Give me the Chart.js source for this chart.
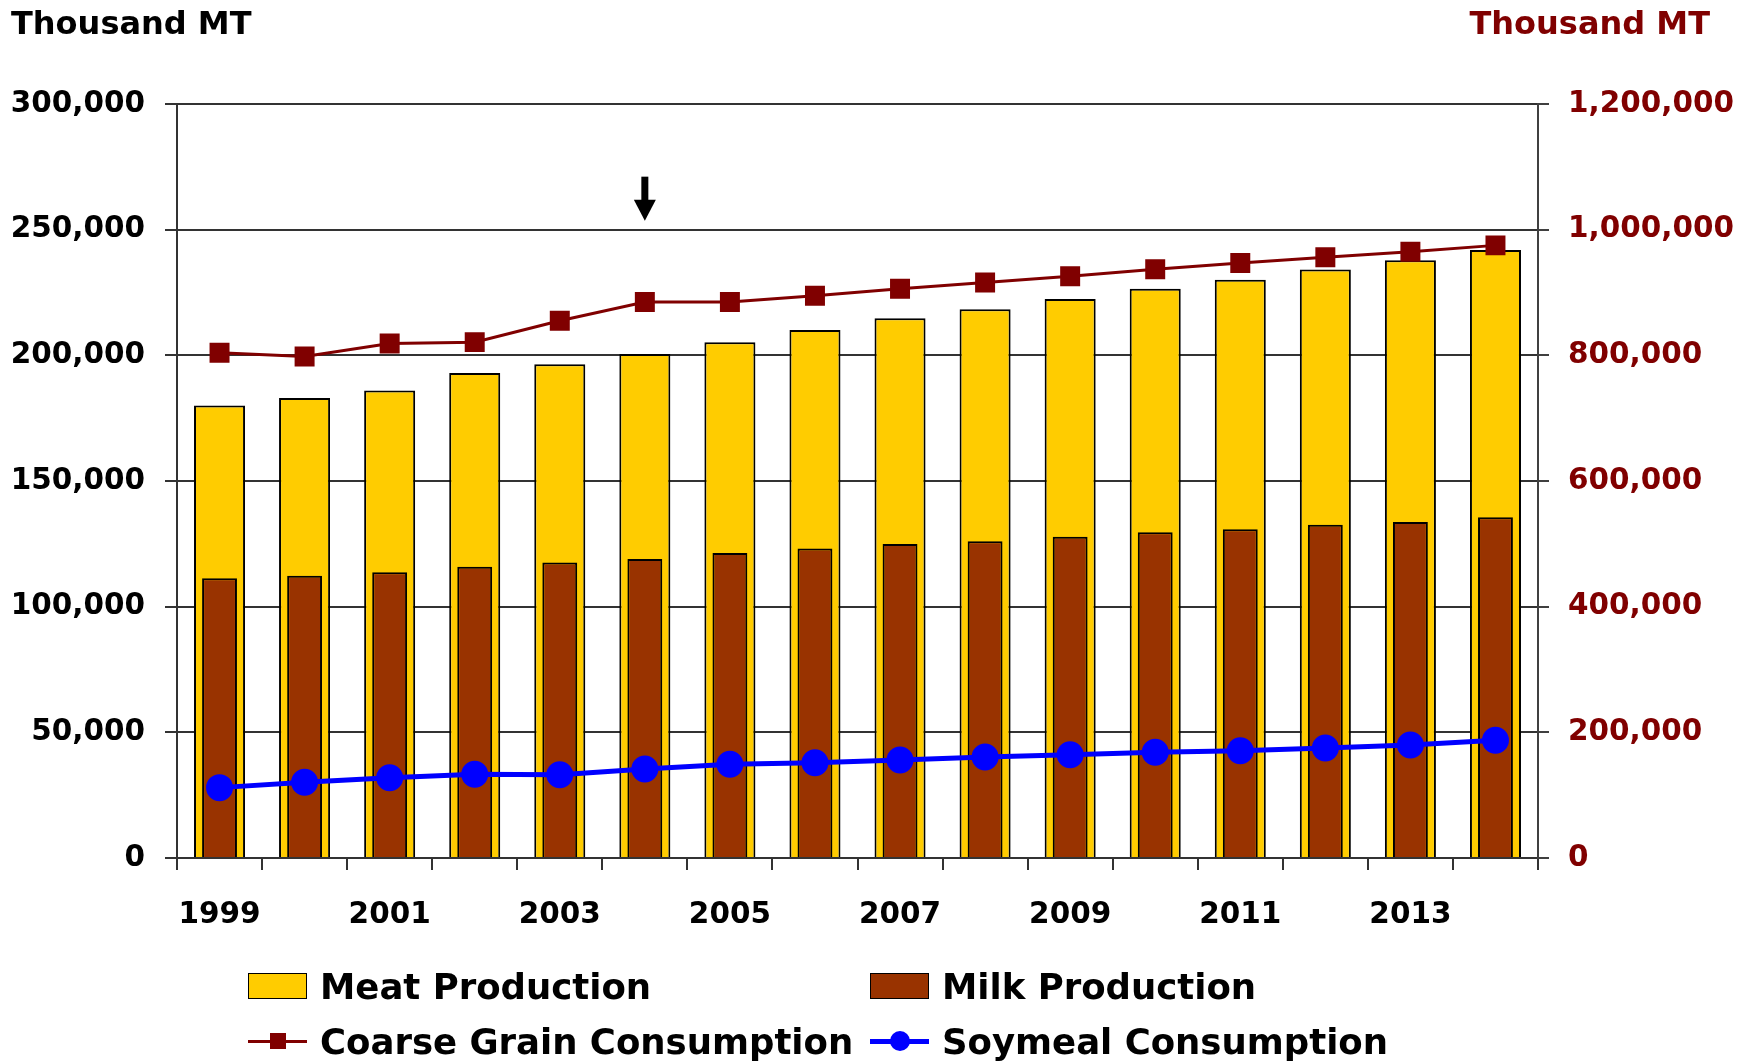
<!DOCTYPE html>
<html>
<head>
<meta charset="utf-8">
<title>Meat and Milk Production vs Feed Consumption</title>
<script src="https://cdn.jsdelivr.net/npm/chart.js@4.4.1/dist/chart.umd.min.js"></script>
<style>
    html, body { margin: 0; padding: 0; background: #fff; overflow: hidden; }
    #wrap { position: relative; width: 1754px; height: 1064px; }
    .legend-item {
        position: absolute; display: flex; align-items: center; height: 40px;
        font: bold 35.5px "DejaVu Sans", sans-serif; color: #000; white-space: nowrap;
    }
    .swatch { position: relative; width: 59px; height: 26px; margin-right: 13px; box-sizing: border-box; }
    .swatch.bar { border: 1.5px solid #000; }
    .swatch .stroke { position: absolute; left: 0; right: 0; top: 50%; }
    .swatch .dot { position: absolute; left: 50%; top: 50%; }
</style>
</head>
<body>
<div id="wrap">
    <canvas id="feedChart"></canvas>
    <div id="legend"></div>
</div>
<script>
// Thousand MT, calendar years
const years = ['1999', '2000', '2001', '2002', '2003', '2004', '2005', '2006',
               '2007', '2008', '2009', '2010', '2011', '2012', '2013', '2014'];

// left axis
const meatProduction = [180000, 183000, 186000, 193000, 196500, 200500, 205200, 210100,
                        214800, 218300, 222400, 226500, 230100, 234200, 237800, 241900];
const milkProduction = [111300, 112300, 113700, 115900, 117600, 119000, 121400, 123100,
                        124900, 126000, 127800, 129600, 130800, 132600, 133700, 135600];

// right axis
const coarseGrainConsumption = [804000, 798000, 819000, 821000, 855000, 885000, 885000, 895000,
                                906000, 916000, 926000, 937000, 947000, 956000, 965000, 975000];
const soymealConsumption = [112000, 120500, 127800, 133200, 132600, 141600, 149100, 151700,
                            156000, 160700, 164400, 168200, 170800, 175100, 179800, 187300];

const leftMax = 300000, leftStep = 50000;
const rightMax = 1200000, rightStep = 200000;
const axisTitle = 'Thousand MT';
const arrowYear = '2004';

const MEAT = '#FFCC00', MILK = '#993300', GRAIN = '#800000', SOY = '#0000FF';
const FONT = '"DejaVu Sans", sans-serif';

Chart.defaults.font.family = FONT;
Chart.defaults.font.weight = 'bold';
Chart.defaults.color = '#000';

const fmt = v => Number(v).toLocaleString('en-US');

// titles over each value axis + the down arrow above 2004
const extras = {
    id: 'extras',
    afterDraw(chart) {
        const ctx = chart.ctx;
        ctx.save();
        ctx.font = 'bold 32px ' + FONT;
        ctx.textBaseline = 'middle';
        ctx.fillStyle = '#000';
        ctx.textAlign = 'left';
        ctx.fillText(axisTitle, 11, 26);
        ctx.fillStyle = GRAIN;
        ctx.textAlign = 'right';
        ctx.fillText(axisTitle, chart.width - 44, 26);

        const x = chart.scales.x.getPixelForValue(years.indexOf(arrowYear));
        const tip = chart.scales.y.getPixelForValue(250000) - 9;
        ctx.fillStyle = '#000';
        ctx.fillRect(x - 3.5, tip - 44, 7, 24);
        ctx.beginPath();
        ctx.moveTo(x - 11, tip - 21);
        ctx.lineTo(x + 11, tip - 21);
        ctx.lineTo(x, tip);
        ctx.closePath();
        ctx.fill();
        ctx.restore();
    }
};

new Chart(document.getElementById('feedChart'), {
    type: 'bar',
    data: {
        labels: years,
        datasets: [
            { type: 'line', label: 'Coarse Grain Consumption', data: coarseGrainConsumption, yAxisID: 'y1', order: 0,
              borderColor: GRAIN, borderWidth: 3, pointStyle: 'rect', pointRadius: 12, pointHoverRadius: 12,
              pointBackgroundColor: GRAIN, pointBorderColor: GRAIN, tension: 0 },
            { type: 'line', label: 'Soymeal Consumption', data: soymealConsumption, yAxisID: 'y1', order: 1,
              borderColor: SOY, borderWidth: 5, pointStyle: 'circle', pointRadius: 11, pointHoverRadius: 11,
              pointBackgroundColor: SOY, pointBorderColor: SOY, tension: 0 },
            { label: 'Milk Production', data: milkProduction, yAxisID: 'y', order: 2, grouped: false,
              backgroundColor: MILK, borderColor: '#000', borderWidth: 2,
              barPercentage: 0.41, categoryPercentage: 1 },
            { label: 'Meat Production', data: meatProduction, yAxisID: 'y', order: 3, grouped: false,
              backgroundColor: MEAT, borderColor: '#000', borderWidth: 2,
              barPercentage: 0.6, categoryPercentage: 1 },
        ]
    },
    options: {
        responsive: true,
        maintainAspectRatio: false,
        animation: false,
        layout: { padding: { top: 104, left: 0, right: 0, bottom: 0 } },
        plugins: { legend: { display: false }, tooltip: { enabled: false } },
        scales: {
            x: {
                offset: true,
                grid: { offset: true, drawOnChartArea: false, tickLength: 12, color: '#333', lineWidth: 2 },
                border: { display: true, color: '#333', width: 2 },
                ticks: {
                    autoSkip: false, maxRotation: 0, padding: 28, color: '#000',
                    font: { size: 29.5, weight: 'bold' },
                    callback: (v, i) => i % 2 === 0 ? years[i] : ''
                },
                afterFit: s => { s.height = 206; }
            },
            y: {
                position: 'left', min: 0, max: leftMax,
                grid: { color: '#333', lineWidth: 2, tickLength: 12 },
                border: { display: true, color: '#333', width: 2 },
                ticks: { stepSize: leftStep, padding: 20, color: '#000', font: { size: 29.5, weight: 'bold' }, callback: fmt },
                afterFit: s => { s.width = 177; }
            },
            y1: {
                position: 'right', min: 0, max: rightMax,
                grid: { drawOnChartArea: false, color: '#404040', lineWidth: 2, tickLength: 11 },
                border: { display: true, color: '#404040', width: 2 },
                ticks: { stepSize: rightStep, padding: 19, color: GRAIN, font: { size: 29.5, weight: 'bold' }, callback: fmt },
                afterFit: s => { s.width = 216; }
            }
        }
    },
    plugins: [extras]
});

// two-column legend under the axis
const LEGEND = [
    { label: 'Meat Production',          kind: 'bar',  color: MEAT,  left: 248, top: 966 },
    { label: 'Milk Production',          kind: 'bar',  color: MILK,  left: 870, top: 966 },
    { label: 'Coarse Grain Consumption', kind: 'line', color: GRAIN, left: 248, top: 1021, lw: 3, dot: 16, round: false },
    { label: 'Soymeal Consumption',      kind: 'line', color: SOY,   left: 870, top: 1021, lw: 5, dot: 20, round: true },
];

document.getElementById('legend').innerHTML = LEGEND.map(l => {
    const sw = l.kind === 'bar'
        ? `<span class="swatch bar" style="background:${l.color}"></span>`
        : `<span class="swatch">
               <span class="stroke" style="height:${l.lw}px;margin-top:${-l.lw / 2}px;background:${l.color}"></span>
               <span class="dot" style="width:${l.dot}px;height:${l.dot}px;margin:${-l.dot / 2}px 0 0 ${-l.dot / 2}px;background:${l.color};border-radius:${l.round ? '50%' : '0'}"></span>
           </span>`;
    return `<div class="legend-item" style="left:${l.left}px;top:${l.top}px">${sw}${l.label}</div>`;
}).join('');
</script>
</body>
</html>
